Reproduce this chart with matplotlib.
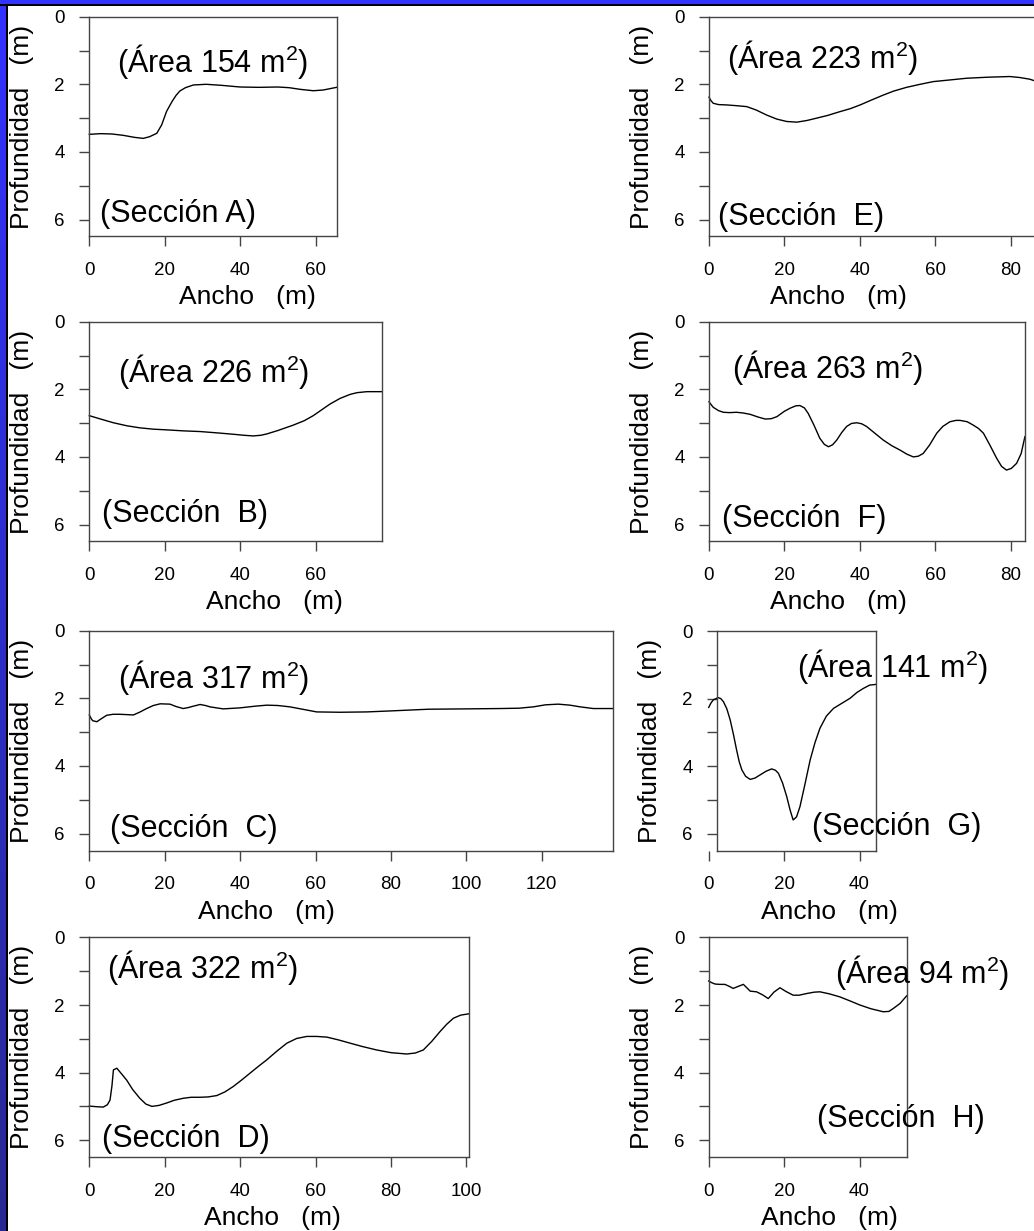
import numpy as np
import matplotlib.pyplot as plt
import matplotlib.transforms as mtransforms
from matplotlib.patches import Rectangle
from matplotlib.ticker import MultipleLocator

plt.rcParams['font.family'] = ['Liberation Sans', 'DejaVu Sans']
plt.rcParams['mathtext.fontset'] = 'custom'
plt.rcParams['mathtext.rm'] = 'Liberation Sans'
plt.rcParams['mathtext.it'] = 'Liberation Sans'

# Perfiles de profundidad (m) a lo largo del ancho (m) de cada sección
a_x = [0, 3, 6, 9, 12, 14.3, 16, 17.9, 19.2, 20.5, 22, 23, 24, 25.5, 27.6, 31, 35, 40, 45, 50, 53, 56,
       59.4, 62, 65.6]
a_d = [3.48, 3.46, 3.47, 3.51, 3.57, 3.6, 3.55, 3.45, 3.2, 2.8, 2.5, 2.33, 2.2, 2.1, 2.02, 2.0, 2.03,
       2.08, 2.09, 2.08, 2.1, 2.15, 2.19, 2.17, 2.09]

b_x = [0, 3, 6.4, 10, 13.4, 17, 20.5, 25, 29.4, 34, 38.2, 41, 43.5, 45.5, 47.1, 50, 54.1, 57, 59.4,
       63.8, 66.5, 69.2, 71, 73.6, 77.7]
b_d = [2.78, 2.88, 2.99, 3.08, 3.14, 3.18, 3.2, 3.23, 3.25, 3.29, 3.33, 3.36, 3.38, 3.36, 3.32, 3.22,
       3.06, 2.93, 2.78, 2.44, 2.27, 2.15, 2.1, 2.07, 2.07]

c_x = [0, 0.5, 0.9, 2.0, 3.2, 4.6, 6.3, 8.1, 10, 11.7, 13.5, 15.2, 17, 18.8, 21.4, 23, 24.9, 26.3,
       27.6, 29.4, 30.8, 32, 35.5, 40, 44, 47.1, 50, 53.2, 57, 60.3, 66.5, 73.6, 80, 90, 100, 108.9,
       114, 117.8, 121, 124.4, 127.5, 130.2, 133.7, 139]
c_d = [2.49, 2.6, 2.66, 2.69, 2.6, 2.5, 2.47, 2.47, 2.48, 2.49, 2.4, 2.3, 2.21, 2.16, 2.17, 2.24, 2.3,
       2.27, 2.23, 2.18, 2.21, 2.25, 2.31, 2.28, 2.23, 2.2, 2.21, 2.25, 2.33, 2.4, 2.41, 2.4, 2.37,
       2.32, 2.31, 2.3, 2.29, 2.25, 2.19, 2.17, 2.2, 2.25, 2.3, 2.3]

d_x = [0, 2, 3.7, 4.8, 5.5, 6.0, 6.4, 7.3, 8.5, 9.9, 11.5, 13.4, 15, 16.6, 18.5, 20.5, 22.5, 24.9, 27,
       29.4, 31.5, 33.8, 36, 38.2, 40.4, 42.6, 44.8, 47.1, 49.7, 52.4, 55, 57.7, 60.3, 63, 66, 69.2,
       72.5, 76.2, 80, 84.2, 86.5, 88.6, 90.8, 93, 94.8, 96.6, 98.5, 100.7]
d_d = [4.99, 5.01, 5.02, 4.95, 4.81, 4.4, 3.92, 3.87, 4.03, 4.22, 4.5, 4.76, 4.93, 5.0, 4.97, 4.9, 4.82,
       4.76, 4.73, 4.73, 4.72, 4.68, 4.57, 4.41, 4.22, 4.02, 3.82, 3.62, 3.37, 3.13, 2.99, 2.93, 2.93,
       2.95, 3.03, 3.13, 3.23, 3.33, 3.41, 3.45, 3.42, 3.33, 3.08, 2.79, 2.57, 2.39, 2.3, 2.26]

e_x = [0, 0.5, 1.1, 2.5, 4.6, 7, 10, 12.5, 15.3, 18, 20.6, 23.3, 26, 28.6, 31.5, 34.7, 37.5, 40.1,
       43, 46.2, 49, 52.4, 56, 59.5, 64, 68.4, 74, 79.8, 82.5, 85.1, 87]
e_d = [2.38, 2.48, 2.56, 2.6, 2.61, 2.63, 2.66, 2.76, 2.91, 3.03, 3.1, 3.12, 3.07, 3.0, 2.92, 2.81,
       2.72, 2.61, 2.47, 2.32, 2.2, 2.09, 2.0, 1.92, 1.87, 1.82, 1.79, 1.77, 1.8, 1.85, 1.92]

f_x = [0, 1.1, 2.5, 3.8, 5.5, 7.3, 9, 10.9, 13, 14.9, 16.5, 18, 20, 21.5, 23, 24.1, 25.3, 26.3, 27.8,
       29.4, 30.6, 31.7, 32.8, 33.9, 35.2, 36.5, 37.8, 39.2, 40.5, 41.8, 44, 46.2, 48.5, 50.7, 52.5,
       54.2, 55.5, 56.8, 58.5, 60.4, 62, 63.9, 65.5, 66.6, 68.5, 70.1, 71.5, 72.8, 74.5, 76.3, 77.6,
       78.9, 80.2, 81.6, 82.8, 83.8]
f_d = [2.37, 2.53, 2.63, 2.68, 2.69, 2.68, 2.7, 2.74, 2.82, 2.88, 2.87, 2.81, 2.65, 2.56, 2.49, 2.48,
       2.55, 2.71, 3.05, 3.45, 3.63, 3.7, 3.64, 3.5, 3.28, 3.1, 3.01, 2.99, 3.02, 3.1, 3.3, 3.5, 3.67,
       3.8, 3.92, 4.0, 3.98, 3.9, 3.65, 3.3, 3.1, 2.96, 2.92, 2.92, 2.96, 3.06, 3.16, 3.3, 3.65, 4.04,
       4.28, 4.39, 4.34, 4.19, 3.9, 3.4]

g_x = [0, 0.6, 1.2, 2.5, 3.2, 3.9, 4.8, 5.7, 6.6, 7.4, 8.1, 8.8, 9.8, 11, 12.3, 13.6, 15.2, 16.7, 17.7,
       18.5, 19.6, 20.7, 21.6, 22.4, 23.3, 24.2, 25.5, 26.9, 28.2, 29.5, 31.2, 33.1, 35.3, 37.5, 39.3,
       41, 42.7, 44.4]
g_d = [2.26, 2.13, 2.04, 1.97, 2.0, 2.09, 2.3, 2.63, 3.08, 3.52, 3.87, 4.11, 4.3, 4.39, 4.35, 4.26,
       4.15, 4.08, 4.12, 4.21, 4.5, 4.9, 5.3, 5.59, 5.5, 5.2, 4.55, 3.82, 3.3, 2.88, 2.52, 2.29, 2.14,
       1.99, 1.82, 1.7, 1.6, 1.58]

h_x = [0, 0.8, 1.7, 3, 4.3, 5.5, 6.5, 7.8, 9.2, 10.2, 11, 12.7, 14.3, 15.8, 17.3, 18.9, 20.5, 22.4, 24,
       26, 28, 29.5, 32, 34.8, 37.5, 40.1, 43, 46.3, 47.8, 49, 50.8, 52.5]
h_d = [1.29, 1.34, 1.38, 1.39, 1.39, 1.45, 1.51, 1.45, 1.39, 1.5, 1.59, 1.61, 1.7, 1.81, 1.62, 1.49,
       1.6, 1.71, 1.71, 1.66, 1.62, 1.61, 1.67, 1.76, 1.88, 2.0, 2.11, 2.2, 2.19, 2.1, 1.95, 1.73]

areas = [154, 226, 317, 322, 223, 263, 141, 94]
section_texts = ['(Sección A)', '(Sección  B)', '(Sección  C)', '(Sección  D)',
                 '(Sección  E)', '(Sección  F)', '(Sección  G)', '(Sección  H)']
profiles = [(a_x, a_d), (b_x, b_d), (c_x, c_d), (d_x, d_d),
            (e_x, e_d), (f_x, f_d), (g_x, g_d), (h_x, h_d)]

# escala común en pixeles por metro
W, H = 1034, 1231
SX, SY = 3.77, 33.8
YMAX = 6.5

# origen x (px), borde superior (px), límite x del recuadro, x del eje y
layout = [
    (89.3, 16.7, 65.6, 0.0),
    (89.3, 321.7, 77.7, 0.0),
    (89.3, 630.8, 139.0, 0.0),
    (89.3, 937.4, 100.7, 0.0),
    (709.0, 16.7, 88.0, 0.0),
    (709.0, 321.7, 83.8, 0.0),
    (708.7, 631.0, 44.4, 2.2),
    (708.7, 937.4, 52.5, 0.0),
]
area_pos = [(7.3, 1.64), (7.7, 1.78), (7.7, 1.70), (4.7, 1.2),
            (4.7, 1.53), (6.1, 1.67), (23.3, 1.35), (33.5, 1.36)]
sect_pos = [(2.8, 6.07), (3.3, 5.92), (5.5, 6.09), (3.3, 6.19),
            (2.5, 6.16), (3.4, 6.07), (27.3, 6.04), (28.6, 5.6)]
xlabel_x = [42, 49, 47, 48.7, 34.3, 34.3, 32, 32]

fig = plt.figure(figsize=(W / 100, H / 100), dpi=100)
fig.patch.set_facecolor('white')

# marco azul de la diapositiva
bar = fig.add_axes([0, 0, 6 / W, 1])
grad = np.linspace(0, 1, 256).reshape(-1, 1)
top_c = np.array([0.20, 0.20, 1.0])
bot_c = np.array([0.16, 0.16, 0.58])
img = top_c[None, None, :] * (1 - grad[:, :, None]) + bot_c[None, None, :] * grad[:, :, None]
bar.imshow(img, aspect='auto', extent=[0, 1, 0, 1])
bar.axis('off')
fig.patches.append(Rectangle((0, 1 - 4 / H), 1, 4 / H, transform=fig.transFigure,
                             facecolor='#3333ff', edgecolor='none', zorder=5))
fig.patches.append(Rectangle((0, 1 - 6 / H), 1, 2 / H, transform=fig.transFigure,
                             facecolor='black', edgecolor='none', zorder=6))
fig.patches.append(Rectangle((6 / W, 0), 2 / W, 1 - 4 / H, transform=fig.transFigure,
                             facecolor='black', edgecolor='none', zorder=6))

spine_c = '#444444'
for i, (x, d) in enumerate(profiles):
    x0, top, xmax, ybox = layout[i]
    wpx = xmax * SX
    hpx = YMAX * SY
    ax = fig.add_axes([x0 / W, 1 - (top + hpx) / H, wpx / W, hpx / H])
    ax.set_xlim(0, xmax)
    ax.set_ylim(YMAX, 0)
    ax.plot(x, d, color='black', lw=1.0, clip_on=False, solid_joinstyle='round')

    for s in ax.spines.values():
        s.set_color(spine_c)
        s.set_linewidth(1.0)
    if ybox > 0:
        ax.spines['left'].set_position(('data', ybox))
        ax.spines['top'].set_bounds(ybox, xmax)
        ax.spines['bottom'].set_bounds(ybox, xmax)

    ax.yaxis.set_major_locator(MultipleLocator(2))
    ax.yaxis.set_minor_locator(MultipleLocator(1))
    ax.tick_params(axis='x', direction='out', length=7.5, width=1, color=spine_c,
                   labelsize=13.5, pad=11, top=False)
    ax.tick_params(axis='y', which='both', direction='out', length=7.5, width=1,
                   color=spine_c, labelsize=13.5, pad=10, right=False)
    ax.set_xticks([t for t in range(0, int(xmax) + 1, 20)])

    ax.text(area_pos[i][0], area_pos[i][1], r'(Área %d m$^{\mathrm{2}}$)' % areas[i],
            fontsize=22, ha='left', va='baseline')
    ax.text(sect_pos[i][0], sect_pos[i][1], section_texts[i],
            fontsize=22, ha='left', va='baseline')

    tr = mtransforms.blended_transform_factory(ax.transData, ax.transAxes)
    ax.text(xlabel_x[i], -68 / hpx, 'Ancho   (m)', transform=tr, fontsize=19,
            ha='center', va='baseline')
    spine_px = x0 + ybox * SX
    fig.text((spine_px - 67) / W, 1 - (top + hpx / 2) / H, 'Profundidad   (m)',
             rotation=90, fontsize=19, ha='center', va='center')

fig.savefig('out.png', dpi=100, facecolor='white')
